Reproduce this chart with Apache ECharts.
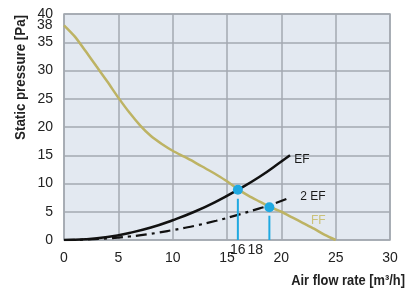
<!DOCTYPE html>
<html>
  <head>
    <meta charset="UTF-8">
    <title>Static pressure</title>
    <script src="https://cdn.jsdelivr.net/npm/echarts@6/dist/echarts.min.js"></script>
    <style>
      body { margin: 0; background: #fff; }
    </style>
  </head>
  <body>
    <div id="myChart" style="width: 412px;height:291px;"></div>
    <script type="text/javascript">
      // FF curve (fan)
      var ffX = [0, 1, 2, 3, 4, 5, 6, 7, 8, 9, 10, 11, 12, 13, 14, 15, 16, 17, 18, 19, 20, 21, 22, 23, 24, 25];
      var ffY = [38, 36.0, 33.4, 30.7, 28.0, 25.2, 22.6, 20.3, 18.4, 17.0, 15.8, 14.8, 13.8, 12.7, 11.6, 10.4, 9.0, 7.8, 6.8, 5.8, 5.0, 4.0, 3.0, 2.0, 0.9, 0];
      // EF curve
      var efX = [0, 2, 4, 6, 8, 10, 12, 14, 16, 18, 20, 20.8];
      var efY = [0, 0.14, 0.55, 1.25, 2.2, 3.5, 5.0, 6.8, 8.9, 11.2, 13.9, 15.0];
      // 2 EF curve
      var ef2X = [0, 2, 4, 6, 8, 10, 12, 14, 16, 18, 19, 20.8];
      var ef2Y = [0, 0.07, 0.28, 0.62, 1.1, 1.75, 2.5, 3.4, 4.45, 5.6, 6.2, 7.5];
      // operating points and drop lines
      var opX = [16, 18.9];
      var opY = [8.9, 5.8];
      var dropTop = [7.3, 4.3];
      var opLabels = ['16', '18'];
      var opLabelX = [16.0, 17.6];
      // axis ticks
      var yTicks = [0, 5, 10, 15, 20, 25, 30, 35, 40];
      var yExtraTick = 38;
      var xTicks = [0, 5, 10, 15, 20, 25, 30];
      // curve labels
      var curveNames = ['EF', '2 EF', 'FF'];
      var curveLabelPos = [[21.9, 14.3], [22.9, 7.6], [23.4, 3.4]];

      var FONT = '"Liberation Sans Narrow", "Liberation Sans", sans-serif';
      var OLIVE = '#bdb364';
      var BLUE = '#1fa9e1';

      function zip(a, b) {
        var out = [];
        for (var i = 0; i < a.length; i++) out.push([a[i], b[i]]);
        return out;
      }

      var series = [
        {
          name: 'FF', type: 'line', data: zip(ffX, ffY), smooth: 0.25,
          symbol: 'none', lineStyle: { color: OLIVE, width: 2.5 }, z: 3
        },
        {
          name: 'EF', type: 'line', data: zip(efX, efY), smooth: true,
          symbol: 'none', lineStyle: { color: '#111', width: 2.5 }, z: 4
        },
        {
          name: '2 EF', type: 'line', data: zip(ef2X, ef2Y), smooth: true,
          symbol: 'none', lineStyle: { color: '#111', width: 2.2, type: [11, 5, 3, 5] }, z: 4
        }
      ];

      for (var i = 0; i < opX.length; i++) {
        series.push({
          type: 'line', data: [[opX[i], dropTop[i]], [opX[i], 0]],
          symbol: 'none', lineStyle: { color: BLUE, width: 2 }, z: 5
        });
      }

      series.push({
        type: 'scatter', data: zip(opX, opY), symbolSize: 10,
        itemStyle: { color: BLUE, opacity: 1 }, z: 6
      });

      // "16 18" labels under the axis
      series.push({
        type: 'scatter', symbolSize: 1, z: 6,
        itemStyle: { opacity: 1, color: 'rgba(0,0,0,0)' },
        data: opLabelX.map(function (x, k) { return { value: [x, 0], name: opLabels[k] }; }),
        label: {
          show: true, position: 'bottom', distance: 3, formatter: '{b}',
          color: '#222', fontSize: 14, fontFamily: FONT
        }
      });

      // extra "38" tick label on the y axis
      series.push({
        type: 'scatter', symbolSize: 1, z: 6,
        itemStyle: { opacity: 1, color: 'rgba(0,0,0,0)' },
        data: [{ value: [0, yExtraTick], name: String(yExtraTick) }],
        label: {
          show: true, position: 'left', distance: 11, formatter: '{b}',
          color: '#222', fontSize: 14, fontFamily: FONT
        }
      });

      // curve names
      var nameData = curveNames.map(function (n, k) { return { value: curveLabelPos[k], name: n }; });
      nameData[2].label = { color: '#cbc27a' };
      series.push({
        type: 'scatter', symbolSize: 1, z: 6,
        itemStyle: { opacity: 1, color: 'rgba(0,0,0,0)' },
        data: nameData,
        label: {
          show: true, position: 'inside', formatter: '{b}', fontSize: 12,
          fontFamily: FONT, color: '#1a1a1a'
        }
      });

      var myChart = echarts.init(document.getElementById('myChart'));
      myChart.setOption({
        animation: false,
        grid: {
          left: 64, right: 22, top: 14, bottom: 51,
          show: true, backgroundColor: '#e3e9f1', borderColor: '#a3a9b0', borderWidth: 1.5
        },
        xAxis: {
          type: 'value', min: 0, max: 30, interval: 5,
          axisLine: { show: false },
          axisTick: { show: false },
          splitLine: { lineStyle: { color: '#a3a9b0', width: 1.5 } },
          axisLabel: {
            customValues: xTicks, margin: 11,
            color: '#222', fontSize: 14, fontFamily: FONT
          }
        },
        yAxis: {
          type: 'value', min: 0, max: 40, interval: 5,
          axisLine: { show: false },
          axisTick: { show: false },
          splitLine: { lineStyle: { color: '#a3a9b0', width: 1.5 } },
          axisLabel: {
            customValues: yTicks, margin: 11,
            color: '#222', fontSize: 14, fontFamily: FONT
          }
        },
        graphic: [
          {
            type: 'text', left: 14, top: 15, rotation: Math.PI / 2, scaleX: 0.95,
            style: {
              text: 'Static pressure [Pa]', fill: '#222',
              font: 'bold 14px ' + FONT
            }
          },
          {
            type: 'text', right: 7, top: 274, scaleX: 0.92,
            style: {
              text: 'Air flow rate [m³/h]', fill: '#222',
              font: 'bold 14px ' + FONT
            }
          }
        ],
        series: series
      });
    </script>
  </body>
</html>
